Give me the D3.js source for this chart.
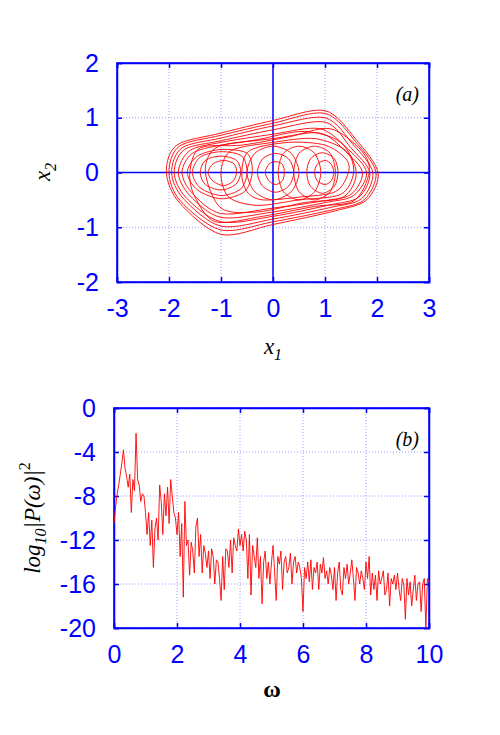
<!DOCTYPE html>
<html>
<head>
<meta charset="UTF-8">
<script src="https://cdn.jsdelivr.net/npm/d3@7"></script>
<style>
  body { margin: 0; background: #fff; }
  .lab { font-family: 'Liberation Serif', 'Times New Roman', serif; }
</style>
</head>
<body>
<svg width="500" height="735"></svg>
<script>
// --- panel (a): traced loops of the trajectory (x1, x2) ---
const loops = [
  [[-2.05,0],[-1.85,0.5],[-1.0,0.72],[0,0.95],[1.0,1.13],[1.6,0.6],[2.02,0],[1.8,-0.5],[1.2,-0.7],[0,-0.95],[-1.0,-1.13],[-1.8,-0.55]],
  [[-2.0,0],[-1.8,0.48],[-1.0,0.68],[0,0.9],[1.0,1.08],[1.6,0.55],[1.98,0],[1.75,-0.5],[1.15,-0.68],[0,-0.9],[-1.0,-1.05],[-1.78,-0.52]],
  [[-1.95,0],[-1.75,0.45],[-1.0,0.63],[0,0.85],[1.0,1.0],[1.55,0.5],[1.92,0],[1.7,-0.48],[1.1,-0.64],[0,-0.85],[-1.0,-0.98],[-1.72,-0.48]],
  [[-1.9,0],[-1.7,0.42],[-1.0,0.58],[0,0.78],[1.0,0.92],[1.5,0.45],[1.86,0],[1.65,-0.45],[1.05,-0.6],[0,-0.8],[-1.0,-0.9],[-1.68,-0.45]],
  [[-1.82,0],[-1.6,0.4],[-1.0,0.55],[0,0.7],[0.9,0.8],[1.45,0.42],[1.8,0],[1.55,-0.42],[1.0,-0.55],[0,-0.72],[-1.0,-0.82],[-1.6,-0.42]],
  [[-1.75,0],[-1.55,0.35],[-1.0,0.5],[0,0.62],[0.9,0.72],[1.4,0.38],[1.72,0],[1.5,-0.4],[0.95,-0.52],[0,-0.65],[-1.0,-0.75],[-1.55,-0.38]],
  [[-1.65,0],[-1.45,0.3],[-1.0,0.42],[-0.5,0.35],[-0.4,0],[-0.55,-0.35],[-1.0,-0.48],[-1.45,-0.32]],
  [[-1.55,0],[-1.4,0.28],[-1.0,0.38],[-0.6,0.3],[-0.5,0],[-0.62,-0.3],[-1.0,-0.42],[-1.4,-0.28]],
  [[-1.4,0],[-1.3,0.22],[-1.0,0.3],[-0.7,0.22],[-0.62,0],[-0.72,-0.22],[-1.0,-0.32],[-1.3,-0.22]],
  [[-1.25,0],[-1.15,0.16],[-0.95,0.22],[-0.75,0.16],[-0.7,0],[-0.77,-0.16],[-0.95,-0.24],[-1.15,-0.16]],
  [[-0.5,0],[-0.35,0.35],[0,0.48],[0.35,0.35],[0.5,0],[0.35,-0.35],[0,-0.5],[-0.35,-0.35]],
  [[-0.3,0],[-0.2,0.25],[0.05,0.35],[0.3,0.25],[0.4,0],[0.3,-0.25],[0.05,-0.36],[-0.2,-0.25]],
  [[-0.15,0],[-0.08,0.15],[0.05,0.2],[0.18,0.15],[0.22,0],[0.18,-0.15],[0.05,-0.22],[-0.08,-0.15]],
  [[0.1,0],[0.2,0.35],[0.5,0.48],[0.8,0.35],[0.92,0],[0.8,-0.35],[0.5,-0.5],[0.2,-0.35]],
  [[0.4,0],[0.5,0.35],[0.8,0.48],[1.1,0.35],[1.2,0],[1.1,-0.35],[0.8,-0.5],[0.5,-0.35]],
  [[0.65,0],[0.72,0.25],[0.95,0.36],[1.18,0.25],[1.25,0],[1.18,-0.25],[0.95,-0.38],[0.72,-0.25]],
  [[0.8,0],[0.85,0.15],[1.0,0.22],[1.12,0.15],[1.17,0],[1.12,-0.15],[1.0,-0.22],[0.85,-0.15]],
  [[-1.3,0],[-1.1,0.45],[-0.3,0.6],[0.6,0.75],[1.3,0.55],[1.6,0],[1.35,-0.45],[0.6,-0.55],[-0.3,-0.72],[-1.0,-0.65]],
  [[-1.0,0],[-0.8,0.4],[0,0.55],[0.8,0.62],[1.4,0.4],[1.55,0],[1.3,-0.4],[0.5,-0.5],[-0.3,-0.6],[-0.85,-0.45]],
  [[-0.6,0],[-0.45,0.4],[0.3,0.55],[1.0,0.5],[1.4,0.25],[1.45,0],[1.2,-0.35],[0.5,-0.45],[-0.2,-0.5],[-0.5,-0.35]],
  [[-1.6,0],[-1.4,0.45],[-0.6,0.5],[0.3,0.65],[1.1,0.8],[1.7,0.4],[1.85,0],[1.55,-0.52],[0.8,-0.62],[-0.2,-0.8],[-1.1,-0.9],[-1.5,-0.45]]
];
const x1Ticks = [-3,-2,-1,0,1,2,3];
const x2Ticks = [-2,-1,0,1,2];

// --- panel (b): power spectrum, omega step 0.05 ---
const omegaStep = 0.05;
const logP = [
  -10.5,-9,-7.8,-7,-6,-5,-3.8,-5.5,-6.2,-7.2,-6.0,-9.5,-6.5,-7.5,-2.3,-6.5,-7.0,-8.5,-7.8,-8.0,
  -9.5,-11.5,-9.5,-12.5,-10.2,-14.5,-11.0,-10.0,-12.0,-7.0,-8.5,-11.5,-7.8,-9.8,-7.2,-10.5,-6.5,-8.0,-9.5,-10.0,
  -11.5,-9.5,-13.5,-10.5,-17.2,-8.5,-12.5,-12.0,-15.2,-12.2,-13.0,-15.0,-10.8,-10.0,-13.5,-11.5,-15.0,-12.5,-13.2,-14.5,
  -13.0,-15.5,-12.8,-13.5,-16.0,-13.8,-14.0,-15.5,-17.5,-13.5,-16.5,-12.8,-13.0,-14.5,-12.0,-15.0,-11.8,-12.5,-13.0,-11.0,
  -12.5,-11.5,-13.0,-11.2,-12.0,-15.5,-11.5,-17.0,-12.5,-13.5,-14.5,-11.8,-15.5,-13.5,-17.8,-14.0,-13.0,-15.5,-14.0,-16.0,
  -14.0,-12.5,-15.0,-17.5,-13.5,-14.2,-13.0,-16.5,-14.0,-13.5,-15.0,-14.5,-13.2,-16.0,-14.0,-13.5,-15.0,-14.0,-14.5,-15.5,
  -18.5,-14.5,-15.5,-14.0,-15.8,-13.8,-16.5,-14.5,-15.0,-14.0,-16.5,-14.2,-15.0,-13.6,-15.5,-14.8,-16.0,-14.5,-15.2,-16.5,
  -14.5,-17.5,-15.0,-14.0,-16.5,-17.0,-14.5,-15.5,-14.2,-16.0,-15.0,-13.8,-15.5,-17.5,-14.5,-15.0,-16.0,-14.8,-15.5,-16.5,
  -14.0,-15.5,-13.5,-17.0,-15.0,-16.5,-15.2,-17.5,-14.8,-16.0,-15.5,-14.8,-17.0,-16.5,-15.0,-18.0,-15.5,-16.0,-15.2,-16.5,
  -15.0,-16.5,-17.5,-15.5,-16.0,-19.2,-15.5,-17.0,-15.8,-18.0,-16.5,-15.2,-17.5,-16.0,-15.8,-18.5,-16.0,-15.5,-20.0,-15.5,-15.8
];
const omegaTicks = [0,2,4,6,8,10];
const logTicks = [0,-4,-8,-12,-16,-20];

const svg = d3.select("svg");
const blue = "#0000ff";
const fmt = d => String(d); // plain hyphen minus, no decimals

function frame(g, x, y, xt, yt, w, h) {
  // dotted grid
  g.append("g").selectAll("line").data(xt).join("line")
    .attr("x1", d => x(d)).attr("x2", d => x(d)).attr("y1", 0).attr("y2", h)
    .attr("stroke", "#8080ff").attr("stroke-width", 0.8).attr("stroke-dasharray", "1,2");
  g.append("g").selectAll("line").data(yt).join("line")
    .attr("y1", d => y(d)).attr("y2", d => y(d)).attr("x1", 0).attr("x2", w)
    .attr("stroke", "#8080ff").attr("stroke-width", 0.8).attr("stroke-dasharray", "1,2");
  g.append("g").attr("transform", `translate(0,${h})`)
    .call(d3.axisBottom(x).tickValues(xt).tickFormat(fmt).tickSize(-5).tickPadding(17));
  g.append("g").call(d3.axisLeft(y).tickValues(yt).tickFormat(fmt).tickSize(-5).tickPadding(18));
  g.append("g").call(d3.axisTop(x).tickValues(xt).tickSize(-5).tickFormat(""));
  g.append("g").attr("transform", `translate(${w},0)`).call(d3.axisRight(y).tickValues(yt).tickSize(-5).tickFormat(""));
  g.selectAll(".domain, .tick line").attr("stroke", blue).attr("stroke-width", 1.5);
  g.selectAll(".tick text")
    .style("font-family", "'Liberation Sans', Arial, sans-serif")
    .style("font-size", "25px").style("fill", blue);
  g.append("rect").attr("width", w).attr("height", h).attr("fill", "none").attr("stroke", blue).attr("stroke-width", 1.5);
}

// panel a
const wA = 312, hA = 219;
const gA = svg.append("g").attr("transform", "translate(117,63)");
const xA = d3.scaleLinear().domain([-3, 3]).range([0, wA]);
const yA = d3.scaleLinear().domain([-2, 2]).range([hA, 0]);
frame(gA, xA, yA, x1Ticks, x2Ticks, wA, hA);
gA.append("line").attr("x1", xA(0)).attr("x2", xA(0)).attr("y1", 0).attr("y2", hA).attr("stroke", blue).attr("stroke-width", 1.5);
gA.append("line").attr("y1", yA(0)).attr("y2", yA(0)).attr("x1", 0).attr("x2", wA).attr("stroke", blue).attr("stroke-width", 1.5);
const loopLine = d3.line().x(d => xA(d[0])).y(d => yA(d[1])).curve(d3.curveCardinalClosed.tension(0.1));
gA.append("g").selectAll("path").data(loops).join("path")
  .attr("d", loopLine).attr("fill", "none").attr("stroke", "#ff0000").attr("stroke-width", 0.9);
gA.append("text").attr("class", "lab").attr("x", wA - 10).attr("y", 38).attr("text-anchor", "end")
  .attr("font-size", 20).attr("font-style", "italic").text("(a)");
svg.append("text").attr("class", "lab").attr("x", 273).attr("y", 354).attr("text-anchor", "middle")
  .attr("font-size", 23).attr("font-style", "italic").html('x<tspan dy="6" font-size="16">1</tspan>');
svg.append("text").attr("class", "lab").attr("transform", "translate(50,172) rotate(-90)").attr("text-anchor", "middle")
  .attr("font-size", 23).attr("font-style", "italic").html('x<tspan dy="6" font-size="16">2</tspan>');

// panel b
const wB = 315, hB = 220;
const gB = svg.append("g").attr("transform", "translate(114,408)");
const xB = d3.scaleLinear().domain([0, 10]).range([0, wB]);
const yB = d3.scaleLinear().domain([-20, 0]).range([hB, 0]);
frame(gB, xB, yB, omegaTicks, logTicks, wB, hB);
gB.append("path").datum(logP)
  .attr("d", d3.line().x((d, i) => xB(i * omegaStep)).y(d => yB(d)))
  .attr("fill", "none").attr("stroke", "#ff0000").attr("stroke-width", 0.9);
gB.append("text").attr("class", "lab").attr("x", wB - 10).attr("y", 38).attr("text-anchor", "end")
  .attr("font-size", 20).attr("font-style", "italic").text("(b)");
svg.append("text").attr("class", "lab").attr("x", 272).attr("y", 697).attr("text-anchor", "middle")
  .attr("font-size", 24).attr("font-weight", "bold").text("ω");
svg.append("text").attr("class", "lab").attr("transform", "translate(40,518) rotate(-90)").attr("text-anchor", "middle")
  .attr("font-size", 23).attr("font-style", "italic")
  .html('log<tspan dy="6" font-size="16">10</tspan><tspan dy="-6">|P(ω)|</tspan><tspan dy="-10" font-size="16" font-style="normal">2</tspan>');
</script>
</body>
</html>
